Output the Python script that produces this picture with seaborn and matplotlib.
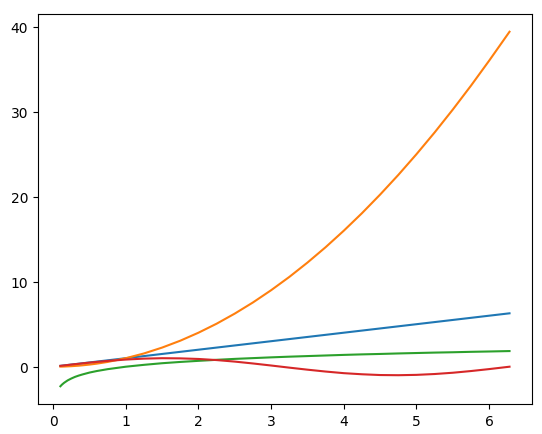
import numpy as np
import pandas as pd
import seaborn as sns
import matplotlib
matplotlib.use('Agg')
import matplotlib.pyplot as plt

# значения
x = [0.1, 0.12, 0.15, 0.2, 0.25, 0.3, 0.35, 0.4, 0.5, 0.6, 0.75, 1.0, 1.25, 1.5, 1.75, 2.0, 2.25, 2.5,
     2.75, 3.0, 3.25, 3.5, 3.75, 4.0, 4.25, 4.5, 4.75, 5.0, 5.25, 5.5, 5.75, 6.0, 6.28]
blue = list(x)
orange = [0.01, 0.01, 0.02, 0.04, 0.06, 0.09, 0.12, 0.16, 0.25, 0.36, 0.56, 1.0, 1.56, 2.25, 3.06, 4.0, 5.06, 6.25,
          7.56, 9.0, 10.56, 12.25, 14.06, 16.0, 18.06, 20.25, 22.56, 25.0, 27.56, 30.25, 33.06, 36.0, 39.4]
green = [-2.30, -2.12, -1.90, -1.61, -1.39, -1.20, -1.05, -0.92, -0.69, -0.51, -0.29, 0.0, 0.22, 0.41, 0.56, 0.69, 0.81, 0.92,
         1.01, 1.10, 1.18, 1.25, 1.32, 1.39, 1.45, 1.50, 1.56, 1.61, 1.66, 1.70, 1.75, 1.79, 1.84]
red = [0.10, 0.12, 0.15, 0.20, 0.25, 0.30, 0.34, 0.39, 0.48, 0.56, 0.68, 0.84, 0.95, 1.00, 0.98, 0.91, 0.78, 0.60,
       0.38, 0.14, -0.11, -0.35, -0.57, -0.76, -0.89, -0.98, -1.00, -0.96, -0.86, -0.71, -0.51, -0.28, 0.0]

f, ax = plt.subplots(figsize=(5.42, 4.35), dpi=100)
f.subplots_adjust(left=0.070, right=0.9815, top=0.9655, bottom=0.069)

for y, c in [(blue, 'tab:blue'), (orange, 'tab:orange'), (green, 'tab:green'), (red, 'tab:red')]:
    sns.lineplot(ax=ax, x=x, y=y, color=c, linewidth=1.5)

f.savefig('out.png', dpi=100)
plt.close()
